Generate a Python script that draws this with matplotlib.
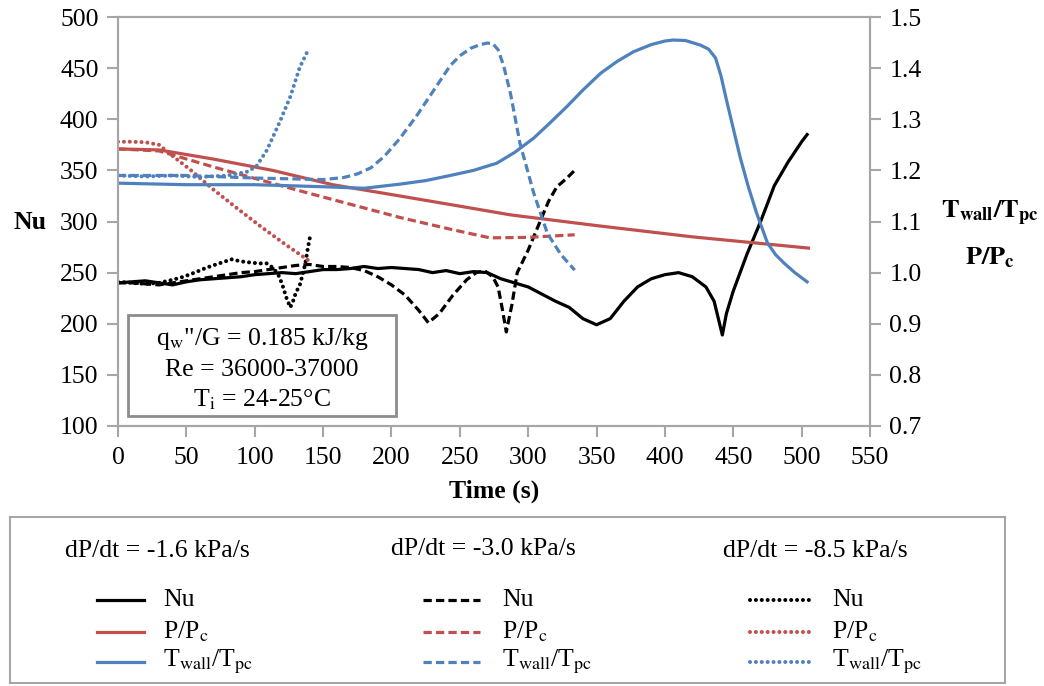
import matplotlib
matplotlib.use("Agg")
import matplotlib.pyplot as plt
from matplotlib.lines import Line2D
from matplotlib.patches import Rectangle

plt.rcParams['font.family'] = ['Liberation Serif', 'DejaVu Serif']
plt.rcParams['mathtext.fontset'] = 'stix'

# ---------------- data ----------------
# dP/dt = -1.6 kPa/s (solid)
t_nu_a = [0, 10, 20, 30, 40, 50, 60, 70, 80, 90, 100, 110, 120, 130, 140, 150, 160, 170, 180, 190,
          200, 210, 220, 230, 240, 250, 260, 270, 280, 290, 300, 310, 320, 330, 340, 350, 360, 370,
          380, 390, 400, 410, 420, 430, 436, 440, 442, 445, 450, 460, 470, 480, 490, 500, 504]
nu_a = [240, 241, 242, 240, 238, 241, 243, 244, 245, 246, 248, 249, 250, 249, 251, 253, 253, 254, 256, 254,
        255, 254, 253, 250, 252, 249, 251, 250, 244, 240, 236, 229, 222, 216, 205, 199, 205, 222,
        236, 244, 248, 250, 246, 236, 222, 200, 189, 210, 232, 268, 300, 335, 358, 378, 385]
t_p_a = [0, 30, 70, 113, 157, 206, 250, 287, 350, 420, 505]
p_a = [1.242, 1.240, 1.222, 1.200, 1.172, 1.150, 1.130, 1.113, 1.092, 1.070, 1.048]
t_t_a = [0, 50, 100, 150, 180, 206, 225, 243, 260, 277, 290, 304, 316, 328, 340, 353, 365, 377, 390, 400,
         406, 415, 426, 432, 437, 441, 445, 450, 455, 461, 467, 475, 481, 487, 495, 504]
tw_a = [1.175, 1.172, 1.172, 1.168, 1.165, 1.173, 1.180, 1.190, 1.200, 1.214, 1.235, 1.263, 1.293, 1.324,
        1.357, 1.390, 1.413, 1.432, 1.446, 1.453, 1.455, 1.454, 1.445, 1.437, 1.420, 1.385, 1.338, 1.282,
        1.226, 1.168, 1.117, 1.058, 1.035, 1.019, 1.000, 0.982]

# dP/dt = -3.0 kPa/s (dashed)
t_nu_b = [0, 10, 20, 30, 40, 50, 60, 70, 80, 90, 100, 110, 120, 130, 140, 150, 160, 170, 180, 190,
          200, 210, 220, 227, 235, 245, 255, 262, 268, 274, 278, 281, 284, 288, 292, 300, 309, 315, 321, 328, 334]
nu_b = [240, 240, 239, 238, 240, 242, 244, 246, 248, 250, 251, 253, 255, 257, 258, 256, 256, 255, 252, 246,
        238, 228, 213, 201, 210, 228, 243, 250, 252, 246, 236, 215, 192, 218, 250, 272, 301, 320, 334, 342, 350]
t_p_b = [0, 30, 72, 133, 206, 243, 272, 300, 334]
p_b = [1.242, 1.238, 1.205, 1.160, 1.108, 1.085, 1.068, 1.069, 1.074]
t_t_b = [0, 50, 100, 150, 165, 175, 185, 195, 206, 218, 231, 243, 250, 258, 265, 270, 274, 278, 282, 287,
         294, 304, 314, 324, 334]
tw_b = [1.190, 1.190, 1.185, 1.182, 1.186, 1.193, 1.205, 1.228, 1.262, 1.305, 1.357, 1.405, 1.424, 1.439,
        1.446, 1.449, 1.448, 1.436, 1.405, 1.351, 1.253, 1.156, 1.077, 1.035, 1.005]

# dP/dt = -8.5 kPa/s (dotted)
t_nu_c = [0, 10, 20, 30, 40, 48, 56, 65, 74, 83, 90, 96, 103, 109, 114, 118, 121, 123, 126, 128, 130, 133,
          135, 137, 139, 141]
nu_c = [241, 240, 239, 240, 243, 246, 250, 255, 259, 263, 261, 260, 259, 259, 254, 246, 235, 226, 216, 222,
        230, 238, 248, 259, 275, 289]
t_p_c = [0, 10, 20, 30, 40, 53, 70, 87, 105, 123, 142]
p_c = [1.256, 1.256, 1.255, 1.250, 1.228, 1.201, 1.162, 1.126, 1.089, 1.054, 1.019]
t_t_c = [0, 20, 40, 60, 80, 90, 94, 101, 109, 118, 126, 133, 139]
tw_c = [1.190, 1.188, 1.190, 1.187, 1.190, 1.195, 1.197, 1.207, 1.240, 1.293, 1.344, 1.402, 1.435]

x_ticks = list(range(0, 551, 50))
nu_ticks = list(range(100, 501, 50))
ratio_ticks = [0.7, 0.8, 0.9, 1.0, 1.1, 1.2, 1.3, 1.4, 1.5]

# ---------------- styles ----------------
BLACK = '#000000'
RED = '#C0504D'
BLUE = '#4F81BD'
GRAY = '#A6A6A6'
LW = 2.3
DASH = (2.6, 1.3)
DOT = (0.01, 1.45)

W, H = 1044, 686
fig = plt.figure(figsize=(W / 100, H / 100), dpi=100)
ax = fig.add_axes([118 / W, 1 - 426 / H, 752 / W, 409 / H])
ax2 = ax.twinx()

FS = 18.5


def style(kind):
    if kind == 'solid':
        return dict(linestyle='-')
    if kind == 'dash':
        return dict(linestyle=(0, DASH), dash_capstyle='butt')
    return dict(linestyle=(0, DOT), dash_capstyle='round')


ax.plot(t_nu_a, nu_a, color=BLACK, lw=LW, **style('solid'))
ax.plot(t_nu_b, nu_b, color=BLACK, lw=LW, **style('dash'))
ax.plot(t_nu_c, nu_c, color=BLACK, lw=LW + 0.6, **style('dot'))

ax2.plot(t_p_a, p_a, color=RED, lw=LW, **style('solid'))
ax2.plot(t_p_b, p_b, color=RED, lw=LW, **style('dash'))
ax2.plot(t_p_c, p_c, color=RED, lw=LW + 0.6, **style('dot'))
ax2.plot(t_t_a, tw_a, color=BLUE, lw=LW, **style('solid'))
ax2.plot(t_t_b, tw_b, color=BLUE, lw=LW, **style('dash'))
ax2.plot(t_t_c, tw_c, color=BLUE, lw=LW + 0.6, **style('dot'))

ax.set_xlim(0, 550)
ax.set_ylim(100, 500)
ax2.set_ylim(0.7, 1.5)
ax.set_xticks(x_ticks)
ax.set_yticks(nu_ticks)
ax2.set_yticks(ratio_ticks)
ax2.set_yticklabels([f'{v:.1f}' for v in ratio_ticks])

for a in (ax, ax2):
    for s in a.spines.values():
        s.set_color(GRAY)
        s.set_linewidth(1.5)
    a.tick_params(colors=GRAY, labelcolor='black', labelsize=FS, length=8, width=1.5, direction='out')
ax.tick_params(axis='y', pad=6)
ax.tick_params(axis='x', pad=7)
ax2.tick_params(axis='y', pad=6)

ax.set_xlabel('Time (s)', fontsize=FS, fontweight='bold', labelpad=8)
fig.text(30 / W, 1 - 222 / H, 'Nu', fontsize=FS, fontweight='bold', ha='center', va='center')
fig.text(990 / W, 1 - 213 / H, r'$\mathbf{T_{wall}/T_{pc}}$', fontsize=FS + 0.5, ha='center', va='center')
fig.text(990 / W, 1 - 258 / H, r'$\mathbf{P/P_{c}}$', fontsize=FS + 0.5, ha='center', va='center')

# annotation box
ax.add_patch(Rectangle((0.0133, 0.0244), 0.3564, 0.2466, transform=ax.transAxes,
                       facecolor='white', edgecolor='#8C8C8C', lw=2, zorder=5))
ann = [r'q$_\mathrm{w}$"/G = 0.185 kJ/kg', 'Re = 36000-37000', r'T$_\mathrm{i}$ = 24-25°C']
for txt, y in zip(ann, [0.212, 0.138, 0.064]):
    ax.text(0.1915, y, txt, transform=ax.transAxes, fontsize=FS, ha='center', va='center', zorder=6)

# legend panel
lax = fig.add_axes([10 / W, 1 - 683 / H, 995 / W, 166 / H])
lax.set_xlim(10, 1005)
lax.set_ylim(683, 517)
lax.set_xticks([])
lax.set_yticks([])
for s in lax.spines.values():
    s.set_color(GRAY)
    s.set_linewidth(1.5)

headers = ['dP/dt = -1.6 kPa/s', 'dP/dt = -3.0 kPa/s', 'dP/dt = -8.5 kPa/s']
header_x = [157, 483, 815]
header_y = [551, 549, 551]
handle_x = [(97, 144), (423, 480), (750, 814)]
label_x = [163, 502, 832]
kinds = ['solid', 'dash', 'dot']
row_y = [600, 632, 662]
row_labels = ['Nu', r'P/P$_\mathrm{c}$', r'T$_\mathrm{wall}$/T$_\mathrm{pc}$']
row_colors = [BLACK, RED, BLUE]
for i in range(3):
    lax.text(header_x[i], header_y[i], headers[i], fontsize=FS, ha='center', va='center')
    for j in range(3):
        extra = 0.6 if kinds[i] == 'dot' else 0
        lax.add_line(Line2D(handle_x[i], [row_y[j], row_y[j]], color=row_colors[j], lw=LW + extra,
                            **style(kinds[i])))
        lax.text(label_x[i], row_y[j], row_labels[j], fontsize=FS, ha='left', va='center')

fig.savefig('out.png', dpi=100)
